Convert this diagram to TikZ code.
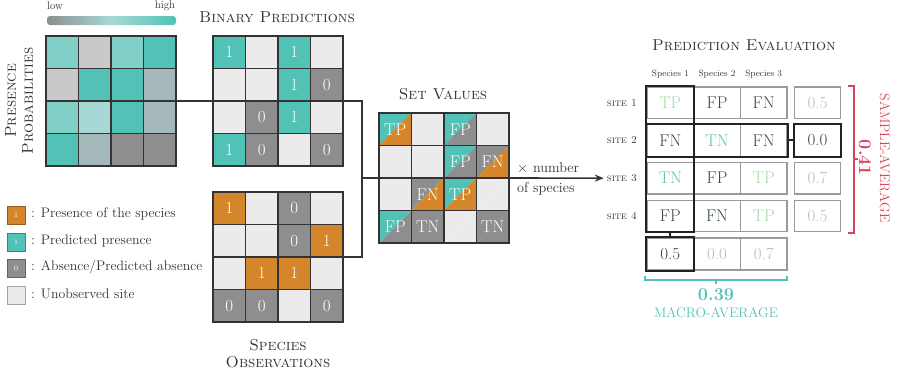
\documentclass[tikz,border=0pt]{standalone}
\usetikzlibrary{arrows.meta}
\definecolor{cteal}{HTML}{52C2B6}
\definecolor{corange}{HTML}{D6862A}
\definecolor{cgray}{HTML}{8E8E90}
\definecolor{clight}{HTML}{EBEBEB}
\definecolor{pA}{HTML}{80D0C8}
\definecolor{pB}{HTML}{C9C9CB}
\definecolor{pC}{HTML}{A4B8B9}
\definecolor{pD}{HTML}{A8D8D5}
\definecolor{cline}{HTML}{333333}
\definecolor{cdark}{HTML}{222222}
\definecolor{cbox}{HTML}{9A9A9A}
\definecolor{tpcol}{HTML}{A3D9A5}
\definecolor{tncol}{HTML}{5FC3A6}
\definecolor{fcol}{HTML}{3B4A48}
\definecolor{vcol}{HTML}{BBBBBB}
\definecolor{cred}{HTML}{D9455A}
\definecolor{ctext}{HTML}{333333}
\newcommand\mygrid[4]{%
  \foreach \rw [count=\ri] in {#4} {
    \foreach \cf/\tx [count=\ki] in \rw {
      \node[cellnode, fill=\cf] (#1-\ri-\ki) at ({#2+(\ki-0.5)*32.5},{#3+(\ri-0.5)*32.5}) {\tx};
    }
  }
  \node[minimum size=130pt, inner sep=0pt] (#1) at ({#2+65},{#3+65}) {};
}
\begin{document}
\begin{tikzpicture}[x=1pt,y=-1pt,
  cellnode/.style={draw=cline, line width=1.1pt, minimum width=32.5pt, minimum height=32.5pt, inner sep=0pt, text=white, font=\fontsize{17}{17}\selectfont},
  evcell/.style={draw=cbox, line width=1.2pt, minimum width=46.67pt, minimum height=31.5pt, inner sep=0pt, font=\fontsize{17}{17}\selectfont},
  thickbox/.style={draw=cdark, line width=2pt},
  conn/.style={draw=cline, line width=1.6pt},
  ttl/.style={font=\fontsize{15.8}{17}\selectfont\scshape, text=ctext, align=center},
  legsq/.style={draw=#1!70!black, fill=#1, line width=0.8pt, minimum size=18pt, inner sep=0pt, text=white, font=\fontsize{7}{7}\selectfont},
  legtxt/.style={anchor=west, font=\fontsize{13.8}{15}\selectfont, text=ctext, inner sep=0pt},
  sitelbl/.style={font=\fontsize{10.5}{11}\selectfont\scshape, text=ctext, inner sep=3pt},
  splbl/.style={font=\fontsize{9}{10}\selectfont, text=ctext},
]
\useasboundingbox (0,0) rectangle (897,375);

% colour bar
\shade[left color=cgray, right color=cteal, middle color=pD, rounded corners=3pt] (47,16) rectangle (176,25);
\node[font=\fontsize{11}{12}\selectfont, text=ctext] (low) at (55,6) {low};
\node[font=\fontsize{11}{12}\selectfont, text=ctext] (high) at (165,6) {high};

% presence probabilities
\mygrid{prob}{46}{36}{{pA/,pB/,pA/,cteal/},{pB/,cteal/,cteal/,pC/},{pA/,pD/,cteal/,pC/},{cteal/,pC/,cgray/,cgray/}}
\node[ttl, rotate=90] (ptitle) at (19,101) {Presence\\Probabilities};

% binary predictions
\mygrid{bin}{213}{36}{{cteal/1,clight/,cteal/1,clight/},{clight/,clight/,cteal/1,cgray/0},{clight/,cgray/0,cteal/1,clight/},{cteal/1,cgray/0,clight/,cgray/0}}
\node[ttl] (btitle) at (277,17) {Binary Predictions};

% species observations
\mygrid{obs}{213}{192}{{corange/1,clight/,cgray/0,clight/},{clight/,clight/,cgray/0,corange/1},{clight/,corange/1,corange/1,clight/},{cgray/0,cgray/0,clight/,cgray/0}}
\node[ttl] (otitle) at (278,354) {Species\\Observations};

% set values
\foreach \rw [count=\ri] in {{cteal/corange/TP,clight/clight/,cteal/cgray/FP,clight/clight/},
 {clight/clight/,clight/clight/,cteal/cgray/FP,cgray/corange/FN},
 {clight/clight/,cgray/corange/FN,cteal/corange/TP,clight/clight/},
 {cteal/cgray/FP,cgray/cgray/TN,clight/clight/,cgray/cgray/TN}}{
  \foreach \ca/\cb/\tx [count=\ki] in \rw {
    \pgfmathsetmacro\xa{379+(\ki-1)*32.5}
    \pgfmathsetmacro\xb{\xa+32.5}
    \pgfmathsetmacro\ya{113+(\ri-1)*32.5}
    \pgfmathsetmacro\yb{\ya+32.5}
    \fill[fill=\ca] (\xa,\ya) -- (\xb,\ya) -- (\xa,\yb) -- cycle;
    \fill[fill=\cb] (\xb,\ya) -- (\xb,\yb) -- (\xa,\yb) -- cycle;
    \node[cellnode] (sv-\ri-\ki) at ({\xa+16.25},{\ya+16.25}) {\tx};
  }
}
\node[minimum size=130pt, inner sep=0pt] (setv) at (444,178) {};
\node[ttl] (stitle) at (443,94) {Set Values};

% connectors
\coordinate (junc) at (362,178);
\draw[conn] (prob.east) -- (bin.west);
\draw[conn] (bin.east) -| (junc);
\draw[conn] (obs.east) -| (junc);
\draw[conn] (junc) -- (setv.west);

% legend
\node[legsq=corange] (leg1) at (16,215) {1};
\node[legsq=cteal] (leg2) at (16,242) {1};
\node[legsq=cgray] (leg3) at (16,268) {0};
\node[legsq=clight] (leg4) at (16,295) {};
\node[legtxt] (lt1) at (31,214) {: Presence of the species};
\node[legtxt] (lt2) at (31,241) {: Predicted presence};
\node[legtxt] (lt3) at (31,267) {: Absence/Predicted absence};
\node[legtxt] (lt4) at (31,294) {: Unobserved site};

% prediction evaluation
\node[ttl] (etitle) at (744,45) {Prediction Evaluation};
\foreach \ki in {1,2,3} \node[splbl] (sp-\ki) at ({647+(\ki-0.5)*46.67},74) {Species \ki};
\foreach \rw [count=\ri] in {{tpcol/TP,fcol/FP,fcol/FN},{fcol/FN,tncol/TN,fcol/FN},{tncol/TN,fcol/FP,tpcol/TP},{fcol/FP,fcol/FN,tpcol/TP}}{
  \foreach \cc/\tx [count=\ki] in \rw {
    \node[evcell, text=\cc] (ev-\ri-\ki) at ({647+(\ki-0.5)*46.67},{102.75+(\ri-1)*37.7}) {\tx};
  }
}
\foreach \vv/\cc [count=\ri] in {0.5/vcol,0.0/fcol,0.7/vcol,0.5/vcol}
  \node[evcell, text=\cc] (avg-\ri) at (817.5,{102.75+(\ri-1)*37.7}) {\vv};
\foreach \vv/\cc [count=\ki] in {0.5/fcol,0.0/vcol,0.7/vcol}
  \node[evcell, minimum height=32pt, text=\cc] (bot-\ki) at ({647+(\ki-0.5)*46.67},254) {\vv};
\foreach \ri in {1,...,4}
  \node[sitelbl, anchor=east] (site-\ri) at (640,{102.75+(\ri-1)*37.7}) {site \ri};

\draw[thickbox] (ev-1-1.north west) rectangle (ev-4-1.south east);
\draw[thickbox] (ev-2-1.north west) rectangle (ev-2-3.south east);
\draw[thickbox] (avg-2.north west) rectangle (avg-2.south east);
\draw[thickbox] (bot-1.north west) rectangle (bot-1.south east);
\draw[thickbox] (ev-2-3.east) -- (avg-2.west);
\draw[thickbox] (ev-4-1.south) -- (bot-1.north);

% arrow
\draw[conn, -{Stealth[length=9pt,width=7pt]}] (setv.east) -- (site-3.west);
\node[anchor=west, font=\fontsize{14.2}{15}\selectfont, text=ctext, inner sep=0pt] (mult1) at (517,168) {$\times$ number};
\node[anchor=west, font=\fontsize{14.2}{15}\selectfont, text=ctext, inner sep=0pt] (mult2) at (517,189) {of species};

% macro-average
\draw[cteal, line width=1.5pt] (645,276) -- (645,280) -- (787,280) -- (787,276);
\draw[cteal, line width=1.5pt] (716,280) -- (716,284);
\node[text=cteal, font=\fontsize{18}{20}\selectfont\bfseries] (macv) at (716,295) {0.39};
\node[text=cteal, font=\fontsize{13.8}{15}\selectfont] (macl) at (716,313) {MACRO-AVERAGE};

% sample-average
\draw[cred, line width=1.5pt] (848,86) -- (854,86) -- (854,233) -- (848,233);
\draw[cred, line width=1.5pt] (854,159) -- (858,159);
\node[text=cred, rotate=-90, font=\fontsize{18}{20}\selectfont\bfseries] (samv) at (865,158) {0.41};
\node[text=cred, rotate=-90, font=\fontsize{13.8}{15}\selectfont] (saml) at (885,158) {SAMPLE-AVERAGE};
\end{tikzpicture}
\end{document}
